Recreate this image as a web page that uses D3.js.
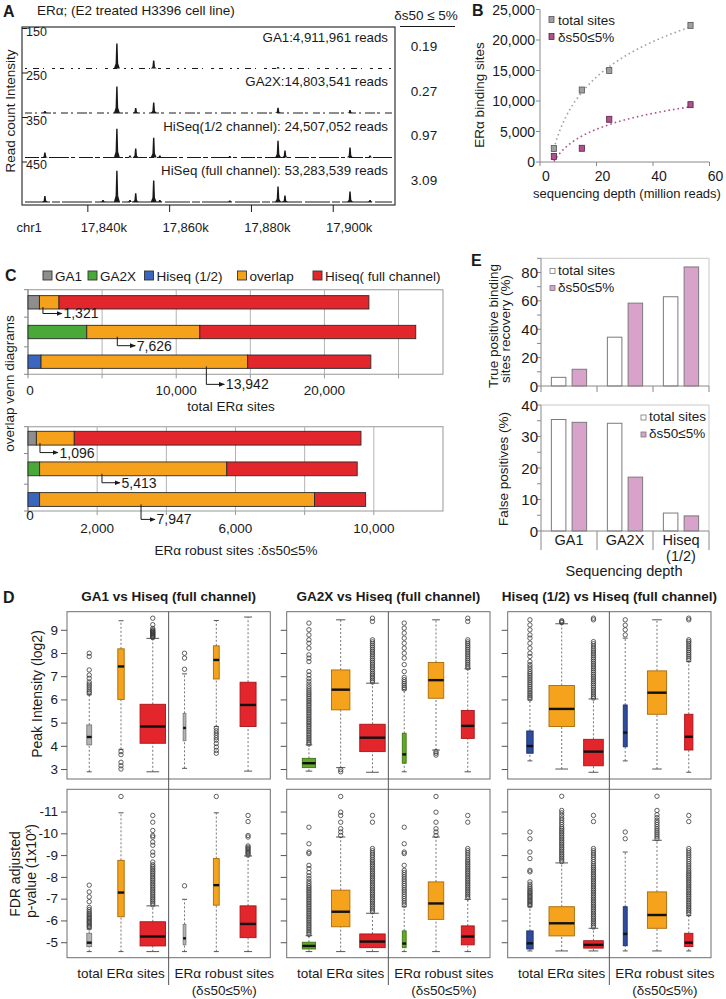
<!DOCTYPE html>
<html><head><meta charset="utf-8">
<script src="https://cdn.jsdelivr.net/npm/d3@7/dist/d3.min.js"></script>
<style>
html,body{margin:0;padding:0;background:#fff;}
svg{display:block;font-family:"Liberation Sans",Arial,Helvetica,sans-serif;}
</style></head>
<body>
<svg id="fig" width="726" height="999"></svg>
<script>
// ================= DATA =================
// Panel A – read-count tracks
const trackNames = ["GA1:4,911,961 reads", "GA2X:14,803,541 reads", "HiSeq(1/2 channel): 24,507,052 reads", "HiSeq (full channel): 53,283,539 reads"];
const trackScaleMax = [150, 250, 350, 450];
const deltaValues = ["0.19", "0.27", "0.97", "3.09"];
const genomeTicks = [17840, 17860, 17880, 17900];
const peakPositions = [17829.5, 17843.7, 17847.1, 17850.3, 17851.7, 17856.1, 17857.6, 17874.7, 17886.5, 17888.2, 17904.1, 17909.0];
const peaksGA1  = [0, 0, 95, 0, 0, 30, 0, 0, 6, 0, 0, 0];
const peaksGA2X = [12, 0, 168, 0, 31, 66, 0, 0, 34, 0, 19, 0];
const peaksHalf = [44, 0, 254, 17, 79, 175, 17, 13, 149, 61, 88, 17];
const peaksFull = [68, 22, 357, 22, 101, 244, 22, 17, 177, 75, 120, 22];

// Panel B – binding sites vs depth
const depthMillion = [4.91, 14.80, 24.51, 53.28];
const totalSitesB = [2200, 11800, 15000, 22400];
const robustSitesB = [900, 2250, 7000, 9400];
const depthTicks = [0, 20, 40, 60];
const sitesTicks = [0, 5000, 10000, 15000, 20000, 25000];

// Panel C – overlap bars
const vennRows = ["GA1", "GA2X", "Hiseq (1/2)"];
const totalOnly = [770, 3966, 880];
const totalOverlap = [1321, 7626, 13942];
const totalFullOnly = [20910, 14570, 8310];
const robustOnly = [242, 336, 336];
const robustOverlap = [1096, 5413, 7947];
const robustFullOnly = [8290, 3770, 1480];
const vennTopTicks = [0, 10000, 20000];
const vennTopGrid = [5000, 10000, 15000, 20000, 25000];
const vennBotTicks = [0, 2000, 6000, 10000];
const vennBotGrid = [2000, 4000, 6000, 8000, 10000];

// Panel E – recovery / false positives
const eCategories = ["GA1", "GA2X", "Hiseq (1/2)"];
const tpTotal = [6.1, 34.4, 62.9];
const tpRobust = [11.8, 58.4, 83.9];
const fpTotal = [35.4, 34.2, 5.7];
const fpRobust = [34.5, 17.1, 4.8];

// Panel D – box plots: [lower whisker, Q1, median, Q3, upper whisker]
const dTitles = ["GA1 vs Hiseq (full channel)", "GA2X vs Hiseq (full channel)", "Hiseq (1/2) vs Hiseq (full channel)"];
const intensityTicks = [3, 4, 5, 6, 7, 8, 9];
const pvalueTicks = [5, 6, 7, 8, 9, 10, 11];
const intensityStatsGA1 = [[2.88,4.04,4.38,4.90,6.2],[3.85,6.0,7.42,8.18,9.39],[2.88,4.11,4.83,5.79,8.63],[3.03,4.22,4.77,5.40,7.1],[4.83,6.88,7.70,8.31,9.40],[2.91,4.83,5.76,6.74,9.55]];
const intensityStatsGA2X = [[2.91,3.06,3.25,3.46,4.04],[3.06,5.55,6.42,7.27,9.43],[2.86,3.75,4.35,4.93,6.70],[2.88,3.25,3.63,4.54,6.41],[3.82,6.05,6.83,7.59,9.43],[2.88,4.32,4.86,5.52,7.32]];
const intensityStatsHalf = [[3.35,3.68,3.99,4.64,5.98],[3.0,4.83,5.59,6.60,9.26],[2.86,3.14,3.75,4.28,6.02],[3.35,3.96,4.57,5.76,8.64],[3.0,5.36,6.29,7.23,9.43],[2.86,3.82,4.39,5.36,7.63]];
const pvalueStatsGA1 = [[4.57,4.80,4.98,5.41,5.61],[4.57,6.17,7.28,8.76,10.94],[4.57,4.83,5.26,5.94,6.67],[4.57,4.88,5.18,5.82,6.97],[4.57,6.70,7.62,8.84,10.94],[4.57,5.21,5.84,6.67,8.96]];
const pvalueStatsGA2X = [[4.57,4.69,4.83,5.0,5.3],[4.57,5.71,6.40,7.39,9.83],[4.57,4.75,5.03,5.38,6.33],[4.57,4.75,4.94,5.52,6.63],[4.57,6.05,6.78,7.77,9.83],[4.57,4.88,5.26,5.75,6.97]];
const pvalueStatsHalf = [[4.6,4.69,4.95,5.52,6.63],[4.6,5.29,5.87,6.63,8.64],[4.6,4.73,4.88,5.07,5.64],[4.6,4.84,5.38,6.63,9.14],[4.6,5.64,6.25,7.31,9.68],[4.6,4.80,4.98,5.41,6.22]];
const intensityOutGA1 = [
 [6.27,6.33,6.41,6.5,6.58,6.66,6.75,6.91,7.05,7.27,7.85,7.99],
 [3.75,3.62,3.29,3.14,3.0],
 [8.66,8.69,8.72,8.75,8.78,8.81,8.84,8.87,8.9,8.93,8.96,9.0,9.06,9.22,9.5],
 [7.3,7.78,7.99],
 [4.76,4.65,4.55,4.45,4.35,4.25,4.1,3.95,3.8,3.68],
 []];
const intensityOutGA2X = [
 [4.08,4.15,4.22,4.3,4.37,4.45,4.52,4.6,4.67,4.75,4.83,4.9,4.98,5.05,5.13,5.2,5.28,5.36,5.43,5.51,5.58,5.66,5.74,5.81,5.89,5.96,6.04,6.12,6.2,6.28,6.36,6.45,6.55,6.66,6.78,6.9,7.05,7.2,7.63,7.78,7.92,8.21,8.42,8.57,8.78,9.0,9.29],
 [2.97,2.88],
 [6.75,6.82,6.9,6.97,7.05,7.12,7.2,7.28,7.36,7.44,7.52,7.6,7.68,7.76,7.84,7.92,8.0,8.08,8.16,8.24,8.32,8.4,8.48,8.57,9.36,9.5],
 [6.45,6.52,6.6,6.68,6.76,6.85,6.95,7.2,7.5,7.78,7.99,8.21,8.42,8.64,8.86,9.07,9.29],
 [3.75,3.68,3.6],
 [7.36,7.44,7.52,7.6,7.68,7.76,7.84,7.92,8.0,8.08,8.16,8.24,8.32,8.4,8.48,8.57,9.36,9.5]];
const intensityOutHalf = [
 [6.03,6.1,6.17,6.25,6.32,6.4,6.48,6.56,6.64,6.72,6.8,6.88,6.96,7.04,7.12,7.2,7.3,7.4,7.5,7.63,7.85,7.99,8.21,8.42,8.64,8.78,9.0,9.21,9.43],
 [9.31,9.35,9.39],
 [6.06,6.13,6.2,6.28,6.36,6.44,6.52,6.6,6.68,6.76,6.84,6.92,7.0,7.08,7.16,7.24,7.32,7.4,7.48,7.56,7.64,7.72,7.8,7.88,7.96,8.04,8.12,8.2,8.3,8.4,8.49,9.43,9.5],
 [8.78,9.0,9.2,9.43],
 [],
 [7.7,7.78,7.86,7.94,8.02,8.1,8.18,8.26,8.34,8.42,8.5,8.57,9.43,9.5]];
const pvalueOutGA1 = [
 [5.66,5.72,5.78,5.84,5.9,5.96,6.02,6.08,6.14,6.2,6.27,6.34,6.41,6.5,6.6,6.86,7.08,7.31,7.62],
 [11.69],
 [6.72,6.8,6.88,6.96,7.04,7.12,7.2,7.28,7.36,7.44,7.52,7.6,7.68,7.76,7.84,7.92,8.0,8.08,8.16,8.24,8.32,8.4,8.48,8.56,8.68,8.99,9.14,9.45,9.6,9.83,9.9,10.13,10.51,10.82],
 [7.59],
 [11.69],
 [9.0,9.06,9.12,9.18,9.24,9.3,9.36,9.42,9.83,9.9,10.54,10.82]];
const pvalueOutGA2X = [
 [5.36,5.44,5.52,5.6,5.68,5.76,5.84,5.92,6.0,6.08,6.16,6.24,6.32,6.4,6.48,6.56,6.64,6.72,6.8,6.88,6.96,7.04,7.12,7.2,7.28,7.36,7.44,7.52,7.6,7.7,7.8,7.92,8.05,8.2,8.38,8.53,9.07,9.14,9.52,10.28],
 [9.9,10.06,10.21,10.51,10.82,10.97,11.69],
 [6.4,6.48,6.56,6.64,6.72,6.8,6.88,6.96,7.04,7.12,7.2,7.28,7.36,7.44,7.52,7.6,7.68,7.76,7.84,7.92,8.0,8.08,8.16,8.24,8.32,8.4,8.48,8.56,8.64,8.72,8.8,8.9,9.0,9.1,9.2,9.3,10.51,10.82],
 [6.7,6.8,6.9,7.0,7.1,7.2,7.3,7.4,7.5,7.6,7.7,7.8,7.9,8.0,8.1,8.2,8.3,8.53,9.07,9.14,9.52,10.28],
 [9.9,10.06,10.21,10.51,10.97,11.69],
 [7.04,7.12,7.2,7.28,7.36,7.44,7.52,7.6,7.68,7.76,7.84,7.92,8.0,8.08,8.16,8.24,8.32,8.4,8.48,8.56,8.64,8.72,8.8,8.9,9.0,9.1,9.2,9.3,10.51,10.82]];
const pvalueOutHalf = [
 [6.68,6.74,6.8,6.86,6.92,6.98,7.04,7.1,7.16,7.22,7.28,7.34,7.4,7.48,7.56,7.66,7.77,8.23,8.3,8.84,9.14,9.75,10.06],
 [8.7,8.78,8.86,8.94,9.02,9.1,9.18,9.26,9.34,9.42,9.5,9.58,9.66,9.74,9.82,9.9,9.98,10.06,10.14,10.22,10.3,10.4,10.5,10.6,10.7,10.82,10.94,11.05,11.7],
 [5.7,5.78,5.86,5.94,6.02,6.1,6.18,6.26,6.34,6.42,6.5,6.58,6.66,6.74,6.82,6.9,6.98,7.06,7.14,7.22,7.3,7.38,7.46,7.54,7.62,7.7,7.78,7.86,7.94,8.02,8.1,8.18,8.26,8.34,8.42,8.5,8.6,8.7,8.8,8.9,9.0,9.1,9.2,9.3,10.54,10.82],
 [9.75,10.06],
 [9.75,9.84,9.93,10.02,10.11,10.2,10.3,10.4,10.5,10.6,10.72,10.85,11.05,11.7],
 [6.3,6.38,6.46,6.54,6.62,6.7,6.78,6.86,6.94,7.02,7.1,7.18,7.26,7.34,7.42,7.5,7.58,7.66,7.74,7.82,7.9,7.98,8.06,8.14,8.22,8.3,8.4,8.5,8.6,8.7,8.8,8.9,9.0,9.1,9.2,9.3,10.54,10.82]];

// ================= DRAWING =================
const svg = d3.select("#fig");
const ink = "#1a1a1a";
const FONT = "'Liberation Sans', Arial, Helvetica, sans-serif";
function T(x, y, s, o = {}) {
  const t = svg.append("text").attr("x", x).attr("y", y)
    .attr("font-size", o.size || 13).attr("text-anchor", o.anchor || "start")
    .attr("fill", o.fill || ink).text(s);
  if (o.bold) t.attr("font-weight", "bold");
  if (o.rot) t.attr("transform", `rotate(-90 ${x} ${y})`);
  return t;
}
function L(x1, y1, x2, y2, stroke, w, dash) {
  const l = svg.append("line").attr("x1", x1).attr("y1", y1).attr("x2", x2).attr("y2", y2)
    .attr("stroke", stroke || ink).attr("stroke-width", w || 1);
  if (dash) l.attr("stroke-dasharray", dash);
  return l;
}
const defs = svg.append("defs");
defs.append("marker").attr("id", "arr").attr("viewBox", "0 0 10 10").attr("refX", 9).attr("refY", 5)
  .attr("markerWidth", 6).attr("markerHeight", 6).attr("markerUnits", "userSpaceOnUse").attr("orient", "auto")
  .append("path").attr("d", "M0,1L10,5L0,9Z").attr("fill", ink);

// ---------- Panel A ----------
T(3, 17, "A", { size: 16, bold: true });
T(37, 15, "ERα; (E2 treated H3396 cell line)", { size: 13.5 });
T(426, 20, "δs50 ≤ 5%", { size: 13.5, anchor: "middle" });
L(400, 26.5, 455, 26.5, ink, 1);
const aL = 22, aT = 27, aR = 395, aB = 205;
const xA = d3.scaleLinear().domain([17823.9, 17915.1]).range([aL, aR]);
const trackBand = d3.scaleBand().domain(d3.range(4)).range([aT, aB]);
const trackPeaks = [peaksGA1, peaksGA2X, peaksHalf, peaksFull];
const baseDash = ["2,6,6,4,1,8,3,5,4,7,2,5", "7,3,2,4,10,2,3,5", "14,2,5,3,20,2,4,4", "25,2,8,2,30,3"];
trackPeaks.forEach((pk, i) => {
  const t0 = trackBand(i), base = t0 + trackBand.bandwidth() - 3;
  const yT = d3.scaleLinear().domain([0, trackScaleMax[i]]).range([base, t0 + 2]);
  L(aL + 3, base, aR - 3, base, ink, 1, baseDash[i]);
  pk.forEach((h, j) => {
    if (h <= 0) return;
    const px = xA(peakPositions[j]), top = yT(h), sh = base - (base - top) * 0.2;
    svg.append("path").attr("d", `M${px - 3},${base}L${px - 1.3},${sh}L${px - 0.7},${top}L${px + 0.7},${top}L${px + 1.3},${sh}L${px + 3},${base}Z`).attr("fill", ink);
  });
  L(aL, t0 + 1.5, aL + 5, t0 + 1.5, ink, 1);
  T(aL + 4, t0 + 8.5, trackScaleMax[i], { size: 12.5 });
  T(388, t0 + 14.5, trackNames[i], { size: 13.3, anchor: "end" });
  T(424, t0 + 24, deltaValues[i], { size: 13.5, anchor: "middle" });
});
svg.append("rect").attr("x", aL).attr("y", aT).attr("width", aR - aL).attr("height", aB - aT)
  .attr("fill", "none").attr("stroke", "#333").attr("stroke-width", 1.2);
genomeTicks.forEach(v => {
  L(xA(v), aB, xA(v), aB + 7, ink, 1);
  T(xA(v) + 16, 232, d3.format(",")(v) + "k", { size: 13, anchor: "middle" });
});
T(16.5, 232, "chr1", { size: 13 });
T(15, 111, "Read count Intensity", { size: 13.5, anchor: "middle", rot: true });

// ---------- Panel B ----------
T(472, 16, "B", { size: 16, bold: true });
const xB = d3.scaleLinear().domain([0, 60]).range([540, 709.5]);
const yB = d3.scaleLinear().domain([0, 25000]).range([162, 9.5]);
L(540, yB(0), 540, yB(25000), "#888", 1);
L(540, yB(0), xB(60), yB(0), "#888", 1);
sitesTicks.forEach(v => {
  L(536, yB(v), 540, yB(v), "#888", 1);
  T(535, yB(v) + 5, d3.format(",")(v), { size: 14, anchor: "end" });
});
depthTicks.forEach(v => {
  L(xB(v), yB(0), xB(v), yB(0) + 4, "#888", 1);
  T(xB(v) + 6, 180.5, v, { size: 14, anchor: "middle" });
});
function logFit(xs, ys) {
  const lx = xs.map(Math.log), mx = d3.mean(lx), my = d3.mean(ys);
  const b = d3.sum(lx, (v, i) => (v - mx) * (ys[i] - my)) / d3.sum(lx, v => (v - mx) ** 2);
  return v => my + b * (Math.log(v) - mx);
}
[[totalSitesB, "#a3a3a3", "#a0a0a0", "#555"], [robustSitesB, "#b0508c", "#b0508c", "#5a2046"]].forEach(([ys, lc, fc, sc]) => {
  const f = logFit(depthMillion, ys);
  const xs = d3.range(0, 41).map(k => depthMillion[0] + (depthMillion[3] - depthMillion[0]) * k / 40);
  svg.append("path").attr("d", d3.line().x(d => xB(d)).y(d => yB(f(d)))(xs))
    .attr("fill", "none").attr("stroke", lc).attr("stroke-width", 1.6).attr("stroke-dasharray", "1.6,3");
  svg.selectAll(null).data(depthMillion).join("rect")
    .attr("x", d => xB(d) - 2.6).attr("y", (d, i) => yB(ys[i]) - 3).attr("width", 5.2).attr("height", 6)
    .attr("fill", fc).attr("stroke", sc).attr("stroke-width", 0.8);
});
svg.append("rect").attr("x", 549).attr("y", 16.5).attr("width", 5).attr("height", 6).attr("fill", "#a0a0a0").attr("stroke", "#555").attr("stroke-width", 0.8);
T(558, 24.5, "total sites", { size: 13.5 });
svg.append("rect").attr("x", 549).attr("y", 33.5).attr("width", 5).attr("height", 6).attr("fill", "#b0508c").attr("stroke", "#5a2046").attr("stroke-width", 0.8);
T(558, 41.5, "δs50≤5%", { size: 13.5 });
T(627, 197.5, "sequencing depth (million reads)", { size: 13, anchor: "middle" });
T(484, 95, "ERα binding sites", { size: 13.5, anchor: "middle", rot: true });

// ---------- Panel C ----------
const cGray = "#8e8e8e", cGreen = "#4aa83a", cBlue = "#3a66c0", cOrange = "#f5a11c", cRed = "#e3262b";
const rowColors = [cGray, cGreen, cBlue];
T(5, 281, "C", { size: 16, bold: true });
[["GA1", cGray, 43], ["GA2X", cGreen, 88], ["Hiseq (1/2)", cBlue, 144.5], ["overlap", cOrange, 237.5], ["Hiseq( full channel)", cRed, 313]].forEach(([s, c, x]) => {
  svg.append("rect").attr("x", x).attr("y", 271).attr("width", 9).attr("height", 9).attr("fill", c).attr("stroke", "#333").attr("stroke-width", 0.9);
  T(x + 12, 280.5, s, { size: 13.5 });
});
function vennChart(o) {
  const x = d3.scaleLinear().domain([0, o.max]).range([28, 443]);
  const y = d3.scaleBand().domain(vennRows).range([o.top, o.bottom]).paddingInner(0.55).paddingOuter(o.pad);
  svg.append("rect").attr("x", 28).attr("y", o.top).attr("width", 415).attr("height", o.bottom - o.top)
    .attr("fill", "none").attr("stroke", "#a8a8a8").attr("stroke-width", 1.2);
  o.grid.forEach(v => { L(x(v), o.top, x(v), o.bottom, "#b3b3b3", 1); L(x(v), o.bottom, x(v), o.bottom + 4, "#999", 1); });
  L(28, o.top, 28, o.bottom + 4, "#888", 1);
  const bounds = [o.top].concat(vennRows.slice(1).map(r => y(r) - y.step() * y.paddingInner() / 2), [o.bottom]);
  bounds.forEach(b => L(24, b, 28, b, "#888", 1));
  vennRows.forEach((r, i) => {
    const segs = [o.only[i], o.overlap[i], o.full[i]], cols = [rowColors[i], cOrange, cRed];
    let acc = 0;
    segs.forEach((v, k) => {
      svg.append("rect").attr("x", x(acc)).attr("y", y(r)).attr("width", x(acc + v) - x(acc)).attr("height", y.bandwidth())
        .attr("fill", cols[k]).attr("stroke", "#2a2a2a").attr("stroke-width", 0.9);
      acc += v;
    });
  });
  vennRows.forEach((r, i) => {
    const ax = x(o.only[i] + o.overlap[i] * o.frac[i]);
    const y0 = y(r) + y.bandwidth(), y1 = y0 + o.drop[i];
    svg.append("path").attr("d", `M${ax},${y0 - 2}V${y1}H${ax + o.len[i]}`).attr("fill", "none")
      .attr("stroke", ink).attr("stroke-width", 1).attr("marker-end", "url(#arr)");
    T(ax + o.len[i] + 1.5, y1 + 5, d3.format(",")(o.overlap[i]), { size: 14 });
  });
  o.ticks.forEach(v => T(x(v) + (v === 0 ? 2 : 0), v === 0 ? o.zeroY : o.labY, d3.format(",")(v), { size: 13.5, anchor: "middle" }));
}
vennChart({ max: 28000, top: 289.7, bottom: 374.3, pad: 0.2, grid: vennTopGrid, ticks: vennTopTicks,
  only: totalOnly, overlap: totalOverlap, full: totalFullOnly,
  frac: [0.18, 0.27, 0.80], drop: [4.5, 7, 16], len: [19, 18, 18], zeroY: 395, labY: 395 });
T(231, 411, "total ERα sites", { size: 13.5, anchor: "middle" });
vennChart({ max: 12000, top: 426.7, bottom: 511, pad: 0.15, grid: vennBotGrid, ticks: vennBotTicks,
  only: robustOnly, overlap: robustOverlap, full: robustFullOnly,
  frac: [0.095, 0.333, 0.369], drop: [7.5, 7, 13], len: [18, 18, 14], zeroY: 519.5, labY: 532.5 });
T(236, 554.5, "ERα  robust sites :δs50≤5%", { size: 13.5, anchor: "middle" });
T(14, 383.5, "overlap venn diagrams", { size: 13.5, anchor: "middle", rot: true });

// ---------- Panel E ----------
T(471, 266, "E", { size: 16, bold: true });
const ePink = "#d9a2cb";
const x0E = d3.scaleBand().domain(eCategories).range([541, 709]);
const x1E = d3.scaleBand().domain(["total", "robust"]).range([0, x0E.bandwidth()]).paddingInner(0.3).paddingOuter(0.5);
function eChart(o) {
  const y = d3.scaleLinear().domain([0, o.max]).range([o.bottom, o.top]);
  L(541, o.top, 709, o.top, "#c8c8c8", 1);
  L(709, o.top, 709, o.bottom, "#c8c8c8", 1);
  eCategories.forEach((c, i) => {
    [["total", o.total[i], "#ffffff"], ["robust", o.robust[i], ePink]].forEach(([k, v, f]) => {
      svg.append("rect").attr("x", x0E(c) + x1E(k)).attr("y", y(v)).attr("width", x1E.bandwidth())
        .attr("height", y(0) - y(v)).attr("fill", f).attr("stroke", "#7a7a7a").attr("stroke-width", 1);
    });
  });
  L(541, o.top, 541, o.bottom, "#888", 1);
  L(541, o.bottom, 709, o.bottom, "#888", 1);
  d3.range(0, o.max + 0.01, o.minor).forEach(v => L(537, y(v), 541, y(v), "#888", 1));
  d3.range(0, o.max + 0.01, o.major).forEach(v => T(538, y(v) + 5.5, v, { size: 15, anchor: "end" }));
  x0E.domain().concat(["end"]).forEach((c, i) => {
    const xx = i < 3 ? x0E(c) : 709;
    L(xx, o.bottom, xx, o.bottom + o.tickLen, "#888", 1);
  });
  svg.append("rect").attr("x", o.lx).attr("y", o.ly - 6).attr("width", 5).attr("height", 5).attr("fill", "#fff").attr("stroke", "#777").attr("stroke-width", 0.8);
  T(o.lx + 8, o.ly, "total sites", { size: 13.5 });
  svg.append("rect").attr("x", o.lx).attr("y", o.ly + 11) .attr("width", 5).attr("height", 5).attr("fill", ePink).attr("stroke", "#777").attr("stroke-width", 0.8);
  T(o.lx + 8, o.ly + 17, "δs50≤5%", { size: 13.5 });
}
eChart({ top: 258.3, bottom: 386, max: 90, minor: 10, major: 20, total: tpTotal, robust: tpRobust, tickLen: 6, lx: 550, ly: 274.5 });
eChart({ top: 405, bottom: 531, max: 40, minor: 5, major: 10, total: fpTotal, robust: fpRobust, tickLen: 19, lx: 641, ly: 421 });
eCategories.forEach(c => {
  const cx = x0E(c) + x0E.bandwidth() / 2;
  const parts = c === "Hiseq (1/2)" ? ["Hiseq", "(1/2)"] : [c];
  parts.forEach((p, k) => T(cx, 545 + k * 16, p, { size: 14.5, anchor: "middle" }));
});
T(624, 576, "Sequencing depth", { size: 14.5, anchor: "middle" });
T(497.5, 326, "True positive binding", { size: 13.5, anchor: "middle", rot: true });
T(509.5, 329, "sites recovery (%)", { size: 13.5, anchor: "middle", rot: true });
T(508, 469, "False positives (%)", { size: 13.5, anchor: "middle", rot: true });

// ---------- Panel D ----------
T(3, 603, "D", { size: 16, bold: true });
const dLefts = [67, 286.7, 507.7], dWidth = 203.3;
const dColors = [["#b3b3b3", "#7a7a7a"], ["#62a82a", "#3d7512"], ["#2d4c9c", "#1b2f6b"]];
const oCol = ["#f5a31c", "#a86a08"], rCol = ["#e3262b", "#a51418"];
const dIntensity = [[intensityStatsGA1, intensityOutGA1], [intensityStatsGA2X, intensityOutGA2X], [intensityStatsHalf, intensityOutHalf]];
const dPvalue = [[pvalueStatsGA1, pvalueOutGA1], [pvalueStatsGA2X, pvalueOutGA2X], [pvalueStatsHalf, pvalueOutHalf]];
function boxRow(p, o, stats, outs) {
  const left = dLefts[p];
  const x = d3.scaleLinear().domain([0.3, 6.7]).range([left, left + dWidth]);
  const y = d3.scaleLinear().domain(o.domain).range([o.bottom, o.top]);
  const counts = [totalOnly[p], totalOverlap[p], totalFullOnly[p], robustOnly[p], robustOverlap[p], robustFullOnly[p]];
  const maxSq = d3.max(counts, c => Math.sqrt(c));
  const step = x(2) - x(1);
  const cols = [dColors[p], oCol, rCol, dColors[p], oCol, rCol];
  svg.append("rect").attr("x", left).attr("y", o.top).attr("width", dWidth).attr("height", o.bottom - o.top)
    .attr("fill", "none").attr("stroke", "#6e6e6e").attr("stroke-width", 1);
  const ax = svg.append("g").attr("transform", `translate(${left},0)`)
    .call(d3.axisLeft(y).tickValues(o.ticks).tickSize(6).tickPadding(3).tickFormat(p === 0 ? o.fmt : () => ""));
  ax.select(".domain").remove();
  ax.selectAll("line").attr("stroke", "#555");
  ax.selectAll("text").attr("font-size", 13.5).attr("font-family", FONT).attr("fill", ink);
  stats.forEach((s, i) => {
    const cx = x(i + 1), w = 0.8 * step * Math.sqrt(counts[i]) / maxSq, cap = Math.max(w * 0.5, 5);
    L(cx, y(s[0]), cx, y(s[1]), "#666", 0.9, "2,2");
    L(cx, y(s[3]), cx, y(s[4]), "#666", 0.9, "2,2");
    L(cx - cap / 2, y(s[0]), cx + cap / 2, y(s[0]), "#555", 1);
    L(cx - cap / 2, y(s[4]), cx + cap / 2, y(s[4]), "#555", 1);
    svg.append("rect").attr("x", cx - w / 2).attr("y", y(s[3])).attr("width", w).attr("height", y(s[1]) - y(s[3]))
      .attr("fill", cols[i][0]).attr("stroke", cols[i][1]).attr("stroke-width", 0.9);
    L(cx - w / 2, y(s[2]), cx + w / 2, y(s[2]), "#111", 2.4);
    svg.selectAll(null).data(outs[i]).join("circle").attr("cx", cx).attr("cy", d => y(d)).attr("r", 2.2)
      .attr("fill", "none").attr("stroke", "#3a3a3a").attr("stroke-width", 0.8);
  });
  return x;
}
dTitles.forEach((t, p) => {
  const x = boxRow(p, { domain: [2.57, 9.78], top: 611.7, bottom: 779, ticks: intensityTicks, fmt: d => d }, dIntensity[p][0], dIntensity[p][1]);
  boxRow(p, { domain: [4.29, 12.02], top: 789.3, bottom: 957.7, ticks: pvalueTicks, fmt: d => "-" + d }, dPvalue[p][0], dPvalue[p][1]);
  T(dLefts[p] + dWidth / 2, 601, t, { size: 13.5, bold: true, anchor: "middle" });
  L(x(3.5), 611.7, x(3.5), 985, "#555", 1);
  T(x(2), 978, "total ERα sites", { size: 13.5, anchor: "middle" });
  T(x(5.25), 978, "ERα robust sites", { size: 13.5, anchor: "middle" });
  T(x(5.25), 995, "(δs50≤5%)", { size: 13.5, anchor: "middle" });
});
T(41.5, 694, "Peak Intensity (log2)", { size: 14, anchor: "middle", rot: true });
T(19.5, 874, "FDR adjusted", { size: 14, anchor: "middle", rot: true });
const pv = T(36, 871, "p-value (1x10", { size: 14, anchor: "middle", rot: true });
pv.append("tspan").attr("font-size", 9).attr("dy", -5).text("x");
pv.append("tspan").attr("dy", 5).text(")");
</script>
</body></html>
